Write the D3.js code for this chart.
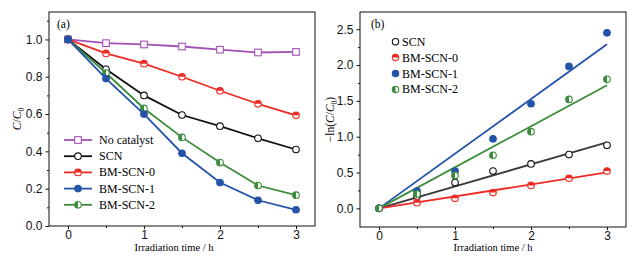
<!DOCTYPE html>
<html lang="en">
<head>
  <meta charset="UTF-8">
  <title>Photocatalytic degradation</title>
  <script src="https://d3js.org/d3.v7.min.js"></script>
  <style>
    body { margin: 0; background: #fff; }
    svg { font-family: 'Liberation Serif', 'DejaVu Serif', serif; }
    .axis text { font-size: 12px; fill: #111; }
    .axis path, .axis line { stroke: #111; }
  </style>
</head>
<body>
  <svg width="642" height="260"></svg>
  <script>
    // time points (h)
    const times = [0, 0.5, 1, 1.5, 2, 2.5, 3];

    // panel (a): C/C0
    const seriesA = ["No catalyst", "SCN", "BM-SCN-0", "BM-SCN-1", "BM-SCN-2"];
    const noCatalyst = [1.0, 0.98, 0.973, 0.962, 0.945, 0.93, 0.933];
    const scn = [1.0, 0.84, 0.70, 0.595, 0.535, 0.47, 0.41];
    const bmScn0 = [1.0, 0.925, 0.87, 0.80, 0.725, 0.655, 0.593];
    const bmScn1 = [1.0, 0.79, 0.60, 0.39, 0.233, 0.138, 0.087];
    const bmScn2 = [1.0, 0.82, 0.63, 0.475, 0.34, 0.217, 0.165];

    // panel (b): -ln(C/C0) and linear fit slopes
    const seriesB = ["SCN", "BM-SCN-0", "BM-SCN-1", "BM-SCN-2"];
    const lnScn = [0, 0.17, 0.36, 0.52, 0.62, 0.75, 0.88];
    const lnBm0 = [0, 0.08, 0.14, 0.22, 0.32, 0.42, 0.52];
    const lnBm1 = [0, 0.24, 0.52, 0.97, 1.46, 1.98, 2.45];
    const lnBm2 = [0, 0.20, 0.46, 0.74, 1.07, 1.52, 1.80];
    const fitSlopes = [0.307, 0.167, 0.763, 0.573];

    const xTicks = [0, 1, 2, 3];
    const yTicksA = [0, 0.2, 0.4, 0.6, 0.8, 1.0];
    const yTicksB = [0, 0.5, 1.0, 1.5, 2.0, 2.5];

    const colors = {
      "No catalyst": "#a251b5",
      "SCN": "#111111",
      "BM-SCN-0": "#ee2a24",
      "BM-SCN-1": "#2553a9",
      "BM-SCN-2": "#3b8c3b"
    };
    const fitColors = {
      "SCN": "#3a3a3a",
      "BM-SCN-0": "#ee2a24",
      "BM-SCN-1": "#2553a9",
      "BM-SCN-2": "#3b8c3b"
    };

    const svg = d3.select("svg");

    // marker painter: square, open, top-half, full, left-half
    const styleOf = {
      "No catalyst": "square",
      "SCN": "open",
      "BM-SCN-0": "top",
      "BM-SCN-1": "full",
      "BM-SCN-2": "left"
    };

    function marker(g, cx, cy, name, r) {
      const c = colors[name];
      const s = styleOf[name];
      if (s === "square") {
        g.append("rect").attr("x", cx - r).attr("y", cy - r)
          .attr("width", 2 * r).attr("height", 2 * r)
          .attr("fill", "#fff").attr("stroke", c).attr("stroke-width", 1.1);
        return;
      }
      g.append("circle").attr("cx", cx).attr("cy", cy).attr("r", r)
        .attr("fill", s === "full" ? c : "#fff")
        .attr("stroke", c).attr("stroke-width", 1.1);
      if (s === "top") {
        g.append("path")
          .attr("d", `M${cx - r},${cy} A${r},${r} 0 0 1 ${cx + r},${cy} Z`)
          .attr("fill", c);
      } else if (s === "left") {
        g.append("path")
          .attr("d", `M${cx},${cy - r} A${r},${r} 0 0 0 ${cx},${cy + r} Z`)
          .attr("fill", c);
      }
    }

    function frame(left, right, top, bottom, x, y, yTicks, yMinor, yFmt) {
      const g = svg.append("g");
      g.append("g").attr("class", "axis")
        .attr("transform", `translate(0,${bottom})`)
        .call(d3.axisBottom(x).tickValues(xTicks).tickSize(3).tickPadding(1).tickFormat(d3.format("d")))
        .call(a => a.select(".domain").remove());
      g.append("g").attr("class", "axis")
        .attr("transform", `translate(0,${bottom})`)
        .call(d3.axisBottom(x).tickValues([0.5, 1.5, 2.5]).tickSize(2).tickFormat(""))
        .call(a => a.select(".domain").remove());
      g.append("g").attr("class", "axis")
        .attr("transform", `translate(${left},0)`)
        .call(d3.axisLeft(y).tickValues(yTicks).tickSize(3.5).tickPadding(3).tickFormat(yFmt))
        .call(a => a.select(".domain").remove());
      g.append("g").attr("class", "axis")
        .attr("transform", `translate(${left},0)`)
        .call(d3.axisLeft(y).tickValues(yMinor).tickSize(2).tickFormat(""))
        .call(a => a.select(".domain").remove());
      g.append("rect").attr("x", left).attr("y", top)
        .attr("width", right - left).attr("height", bottom - top)
        .attr("fill", "none").attr("stroke", "#111").attr("stroke-width", 1);
      return g;
    }

    // ---------- panel (a) ----------
    const aL = 49, aR = 315, aT = 12, aB = 226;
    const xA = d3.scaleLinear().domain([-0.25, 3.25]).range([aL, aR]);
    const yA = d3.scaleLinear().domain([0, 1.147]).range([aB, aT]);
    frame(aL, aR, aT, aB, xA, yA, yTicksA, [0.1, 0.3, 0.5, 0.7, 0.9, 1.1], d3.format(".1f"));

    const dataA = [noCatalyst, scn, bmScn0, bmScn1, bmScn2];
    const gA = svg.append("g");
    const lineA = d3.line().x((d, i) => xA(times[i])).y(d => yA(d));
    // draw in an order so that later series sit on top
    [0, 2, 1, 4, 3].forEach(k => {
      const name = seriesA[k];
      gA.append("path").datum(dataA[k]).attr("d", lineA)
        .attr("fill", "none").attr("stroke", colors[name]).attr("stroke-width", 1.8);
      dataA[k].forEach((v, i) => marker(gA, xA(times[i]), yA(v), name, 3.3));
    });

    svg.append("text").attr("x", 57).attr("y", 28).attr("font-size", 11.5).text("(a)");

    // legend (a)
    seriesA.forEach((name, i) => {
      const ly = 140 + i * 16.2;
      svg.append("line").attr("x1", 64).attr("x2", 92).attr("y1", ly).attr("y2", ly)
        .attr("stroke", colors[name]).attr("stroke-width", 1.8);
      marker(svg, 78, ly, name, 3.3);
      svg.append("text").attr("x", 99).attr("y", ly + 4).attr("font-size", 12).text(name);
    });

    svg.append("text").attr("x", (aL + aR) / 2 - 8).attr("y", 251)
      .attr("text-anchor", "middle").attr("font-size", 10.5).text("Irradiation time / h");

    const ylA = svg.append("text").attr("transform", `translate(21,${(aT + aB) / 2}) rotate(-90)`)
      .attr("text-anchor", "middle").attr("font-size", 11.5);
    ylA.append("tspan").attr("font-style", "italic").text("C");
    ylA.append("tspan").text("/");
    ylA.append("tspan").attr("font-style", "italic").text("C");
    ylA.append("tspan").attr("font-size", 7.5).attr("dy", 3).text("0");

    // ---------- panel (b) ----------
    const bL = 360, bR = 626, bT = 12, bB = 227;
    const xB = d3.scaleLinear().domain([-0.25, 3.25]).range([bL, bR]);
    const yB = d3.scaleLinear().domain([-0.26, 2.74]).range([bB, bT]);
    frame(bL, bR, bT, bB, xB, yB, yTicksB, [0.25, 0.75, 1.25, 1.75, 2.25], d3.format(".1f"));

    const dataB = [lnScn, lnBm0, lnBm1, lnBm2];
    const gB = svg.append("g");
    seriesB.forEach((name, k) => {
      gB.append("line")
        .attr("x1", xB(0)).attr("y1", yB(0))
        .attr("x2", xB(3)).attr("y2", yB(fitSlopes[k] * 3))
        .attr("stroke", fitColors[name]).attr("stroke-width", 1.8);
    });
    seriesB.forEach((name, k) => {
      dataB[k].forEach((v, i) => marker(gB, xB(times[i]), yB(v), name, 3.3));
    });

    svg.append("text").attr("x", 371).attr("y", 28).attr("font-size", 11.5).text("(b)");

    seriesB.forEach((name, i) => {
      const ly = 41.7 + i * 15.9;
      marker(svg, 395.5, ly, name, 3.2);
      svg.append("text").attr("x", 402).attr("y", ly + 4).attr("font-size", 12).text(name);
    });

    svg.append("text").attr("x", (bL + bR) / 2).attr("y", 251)
      .attr("text-anchor", "middle").attr("font-size", 10.5).text("Irradiation time / h");

    const ylB = svg.append("text").attr("transform", `translate(334,${(bT + bB) / 2}) rotate(-90)`)
      .attr("text-anchor", "middle").attr("font-size", 11.5);
    ylB.append("tspan").text("\u2212ln(");
    ylB.append("tspan").attr("font-style", "italic").text("C");
    ylB.append("tspan").text("/");
    ylB.append("tspan").attr("font-style", "italic").text("C");
    ylB.append("tspan").attr("font-size", 7.5).attr("dy", 3).text("0");
    ylB.append("tspan").attr("dy", -3).text(")");
  </script>
</body>
</html>
